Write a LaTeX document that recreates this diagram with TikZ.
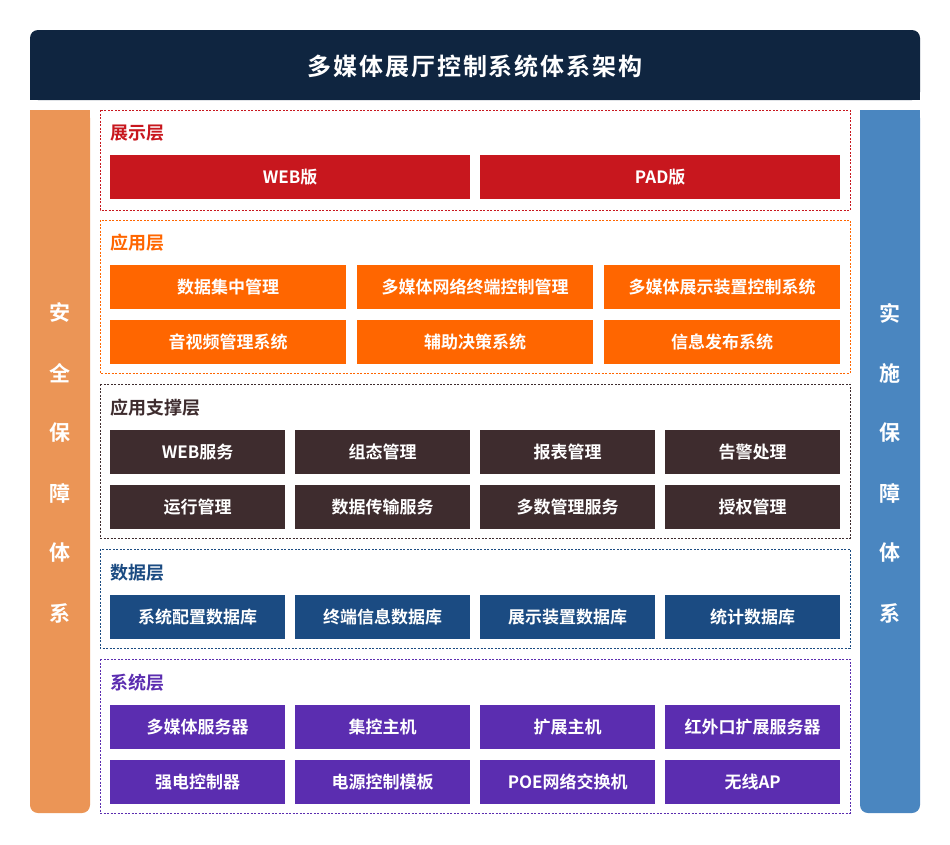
\documentclass[tikz,border=0pt]{standalone}
\usepackage{fontspec}
\setmainfont{Noto Sans CJK SC}
\newfontfamily\cjkb{Noto Sans CJK SC Bold}
\newfontfamily\cjkt[LetterSpace=8]{Noto Sans CJK SC Bold}
\begin{document}
\begin{tikzpicture}[x=1pt,y=-1pt,
  cell/.style={fill=#1,text=white,font=\cjkb\fontsize{17}{19}\selectfont,anchor=north west,inner sep=0pt},
  layer/.style={draw=#1,dashed,line width=0.6pt,dash pattern=on 2pt off 1.5pt},
  lab/.style={text=#1,font=\cjkb\fontsize{18}{20}\selectfont,anchor=west,inner sep=0pt},
  side/.style={text=white,font=\cjkb\fontsize{21}{23}\selectfont}]
\definecolor{cnavy}{HTML}{0F2540}
\definecolor{cred}{HTML}{C8171E}
\definecolor{corange}{HTML}{FF6600}
\definecolor{cbrown}{HTML}{3E2C2E}
\definecolor{cblue}{HTML}{1B4B82}
\definecolor{cpurple}{HTML}{5B2DB0}
\definecolor{cside}{HTML}{EB9556}
\definecolor{cside2}{HTML}{4A86C0}
\useasboundingbox (0,0) rectangle (950,844);
\fill[white] (0,0) rectangle (950,844);
% title
\fill[cnavy,rounded corners=8pt] (30,30) rectangle (920,100);
\fill[cnavy] (30,70) rectangle (920,100);
\node[text=white,font=\cjkt\fontsize{24}{26}\selectfont] (title) at (475,66) {多媒体展厅控制系统体系架构};
% sides
\fill[cside,rounded corners=8pt] (30,110) rectangle (90,813);
\fill[cside] (30,110) rectangle (90,140);
\fill[cside2,rounded corners=8pt] (860,110) rectangle (920,813);
\fill[cside2] (860,110) rectangle (920,140);
\foreach \t [count=\i] in {安,全,保,障,体,系}
  \node[side] (l\i) at (60,253+60*\i) {\t};
\foreach \t [count=\i] in {实,施,保,障,体,系}
  \node[side] (r\i) at (890,253+60*\i) {\t};
% layers
\draw[layer=cred] (100,110) rectangle (850,210);
\node[lab=cred] (L1) at (110,133) {展示层};
\draw[layer=corange] (100,220) rectangle (850,373);
\node[lab=corange] (L2) at (110,243) {应用层};
\draw[layer=cbrown] (100,384) rectangle (850,538);
\node[lab=cbrown] (L3) at (110,408) {应用支撑层};
\draw[layer=cblue] (100,549) rectangle (850,648);
\node[lab=cblue] (L4) at (110,573) {数据层};
\draw[layer=cpurple] (100,659) rectangle (850,813);
\node[lab=cpurple] (L5) at (110,683) {系统层};
% layer1
\node[cell=cred,minimum width=360pt,minimum height=44pt] (a1) at (110,155) {WEB版};
\node[cell=cred,minimum width=360pt,minimum height=44pt] (a2) at (480,155) {PAD版};
% layer2
\foreach \t [count=\i] in {数据集中管理,多媒体网络终端控制管理,多媒体展示装置控制系统}
  \node[cell=corange,minimum width=236pt,minimum height=44pt] (b\i) at (110+247*\i-247,265) {\t};
\foreach \t [count=\i] in {音视频管理系统,辅助决策系统,信息发布系统}
  \node[cell=corange,minimum width=236pt,minimum height=44pt] (c\i) at (110+247*\i-247,320) {\t};
% layer3
\foreach \t [count=\i] in {WEB服务,组态管理,报表管理,告警处理}
  \node[cell=cbrown,minimum width=175pt,minimum height=44pt] (d\i) at (110+185*\i-185,430) {\t};
\foreach \t [count=\i] in {运行管理,数据传输服务,多数管理服务,授权管理}
  \node[cell=cbrown,minimum width=175pt,minimum height=44pt] (e\i) at (110+185*\i-185,485) {\t};
% layer4
\foreach \t [count=\i] in {系统配置数据库,终端信息数据库,展示装置数据库,统计数据库}
  \node[cell=cblue,minimum width=175pt,minimum height=44pt] (f\i) at (110+185*\i-185,595) {\t};
% layer5
\foreach \t [count=\i] in {多媒体服务器,集控主机,扩展主机,红外口扩展服务器}
  \node[cell=cpurple,minimum width=175pt,minimum height=44pt] (g\i) at (110+185*\i-185,705) {\t};
\foreach \t [count=\i] in {强电控制器,电源控制模板,POE网络交换机,无线AP}
  \node[cell=cpurple,minimum width=175pt,minimum height=44pt] (h\i) at (110+185*\i-185,760) {\t};
\end{tikzpicture}
\end{document}
